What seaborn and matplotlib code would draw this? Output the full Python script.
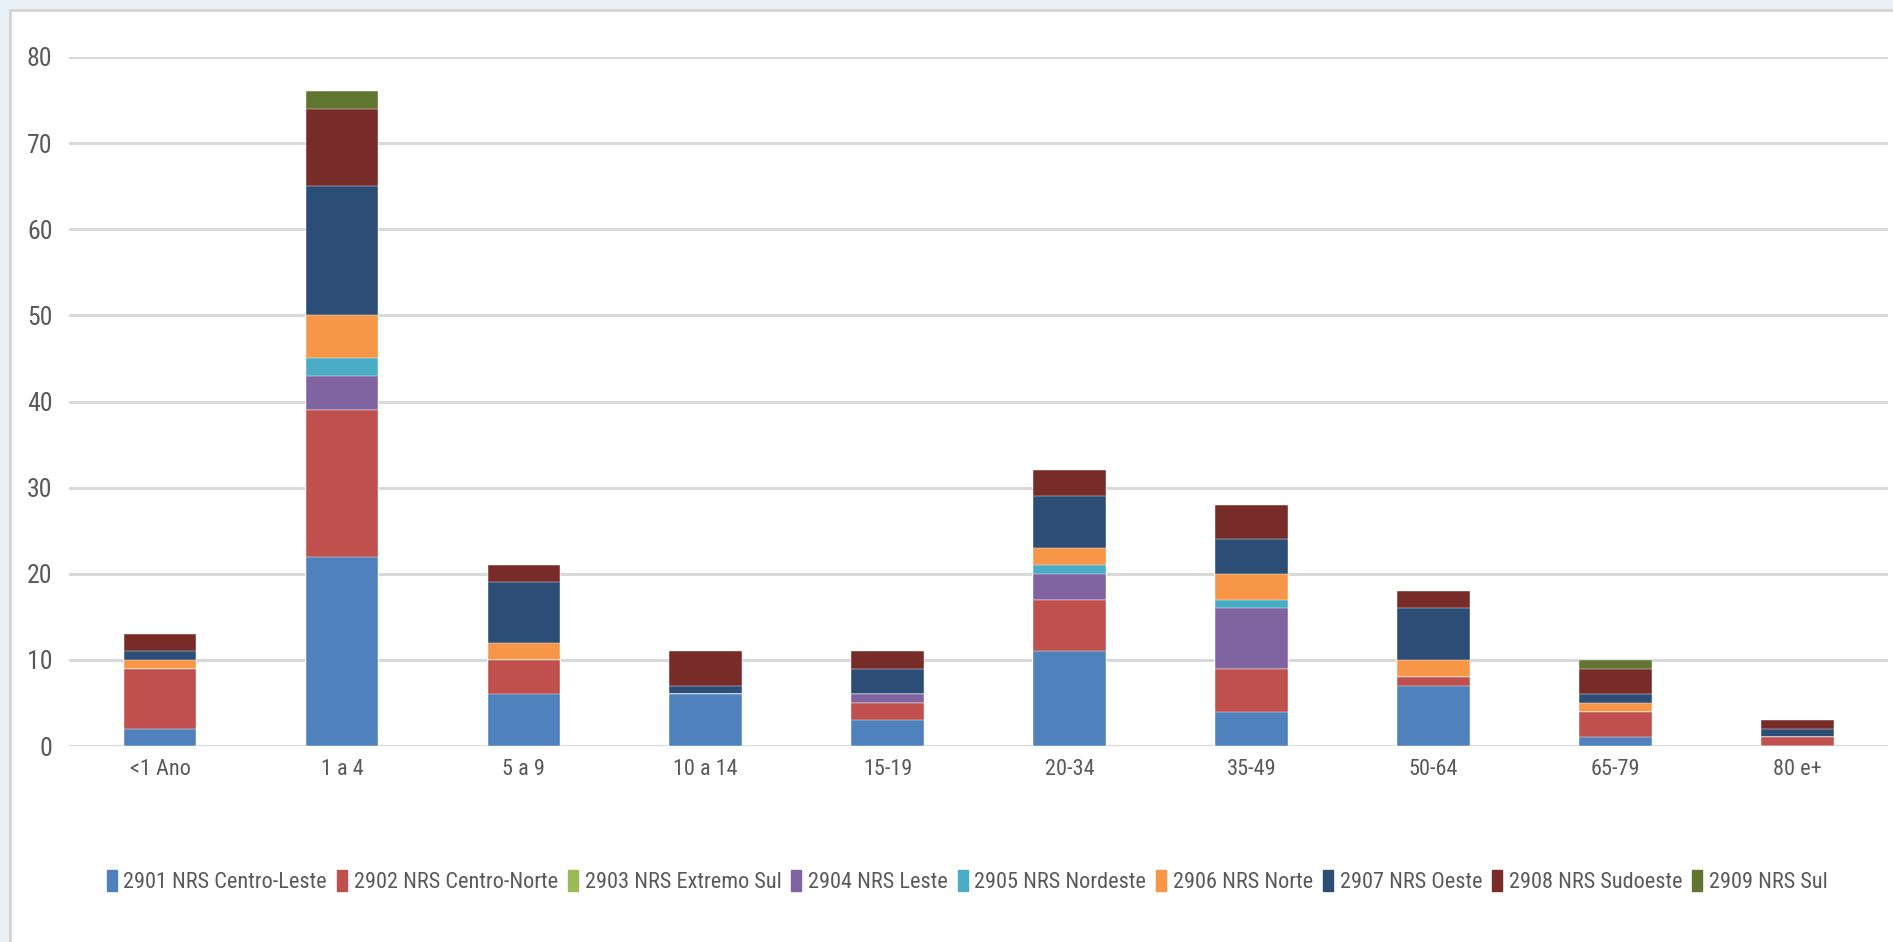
import numpy as np
import pandas as pd
import matplotlib
matplotlib.use("Agg")
import matplotlib.pyplot as plt
import matplotlib.patches as mpatches
from matplotlib import font_manager
import seaborn as sns

faixas = ["<1 Ano", "1 a 4", "5 a 9", "10 a 14", "15-19", "20-34", "35-49", "50-64", "65-79", "80 e+"]

centro_leste = [2, 22, 6, 6, 3, 11, 4, 7, 1, 0]
centro_norte = [7, 17, 4, 0, 2, 6, 5, 1, 3, 1]
extremo_sul = [0, 0, 0, 0, 0, 0, 0, 0, 0, 0]
leste = [0, 4, 0, 0, 1, 3, 7, 0, 0, 0]
nordeste = [0, 2, 0, 0, 0, 1, 1, 0, 0, 0]
norte = [1, 5, 2, 0, 0, 2, 3, 2, 1, 0]
oeste = [1, 15, 7, 1, 3, 6, 4, 6, 1, 1]
sudoeste = [2, 9, 2, 4, 2, 3, 4, 2, 3, 1]
sul = [0, 2, 0, 0, 0, 0, 0, 0, 1, 0]

series_names = ["2901 NRS Centro-Leste", "2902 NRS Centro-Norte", "2903 NRS Extremo Sul",
                "2904 NRS Leste", "2905 NRS Nordeste", "2906 NRS Norte", "2907 NRS Oeste",
                "2908 NRS Sudoeste", "2909 NRS Sul"]
series_vals = [centro_leste, centro_norte, extremo_sul, leste, nordeste, norte, oeste, sudoeste, sul]
colors = ["#4F81BD", "#C0504D", "#9BBB59", "#8064A2", "#4BACC6", "#F79646", "#2C4D75", "#772C2A", "#5F7530"]

sns.set_theme(style="white")

# pick a narrow font if one is there, else Roboto
installed = {f.name for f in font_manager.fontManager.ttflist}
font = "Roboto"
for cand in ["Liberation Sans Narrow", "DejaVu Sans Condensed", "Roboto Condensed"]:
    if cand in installed:
        font = cand
        break
narrow = font != "Roboto"
plt.rcParams['font.family'] = [font, 'DejaVu Sans']
fs = 16 if narrow else 13.8

fig = plt.figure(figsize=(18.93, 9.42), dpi=100, facecolor="#E8F1F8")
# white chart area with a light grey frame
frame = mpatches.Rectangle((10 / 1893, -0.1), 1.2, 1.1 - 10 / 942,
                           transform=fig.transFigure, facecolor="white",
                           edgecolor="#D4D4D4", linewidth=2, zorder=-10)
fig.add_artist(frame)

ax = fig.add_axes([0.0365, 0.208, 0.961, 0.7315])
ax.set_facecolor("none")

# stacked bars: draw cumulative totals from the top layer down
cum = np.cumsum(np.array(series_vals), axis=0)
for i in range(len(series_names) - 1, -1, -1):
    df = pd.DataFrame({"faixa": faixas, "valor": cum[i]})
    sns.barplot(data=df, x="faixa", y="valor", order=faixas, color=colors[i],
                width=0.4, saturation=1, ax=ax, zorder=3,
                edgecolor="white", linewidth=0.3)

ax.set_ylim(0, 80)
ax.set_xlim(-0.5, 9.5)
ax.set_yticks(range(0, 81, 10))
ax.yaxis.grid(True, color="#D9D9D9", linewidth=2.2, zorder=0)
ax.xaxis.grid(False)
for s in ax.spines.values():
    s.set_visible(False)
ax.set_xlabel("")
ax.set_ylabel("")
ax.tick_params(axis="both", length=0, labelsize=fs + 2.5, labelcolor="#595959")
ax.tick_params(axis="x", pad=9, labelsize=fs)
ax.tick_params(axis="y", pad=12)

handles = [mpatches.Patch(color=c, label=n) for c, n in zip(colors, series_names)]
leg = fig.legend(handles=handles, loc="center", bbox_to_anchor=(0.511, 0.064), ncol=9,
                 frameon=False, fontsize=fs, handlelength=0.45, handleheight=1.1,
                 handletextpad=0.3, columnspacing=0.45, labelcolor="#595959")

fig.savefig("out.png", dpi=100, facecolor=fig.get_facecolor())
